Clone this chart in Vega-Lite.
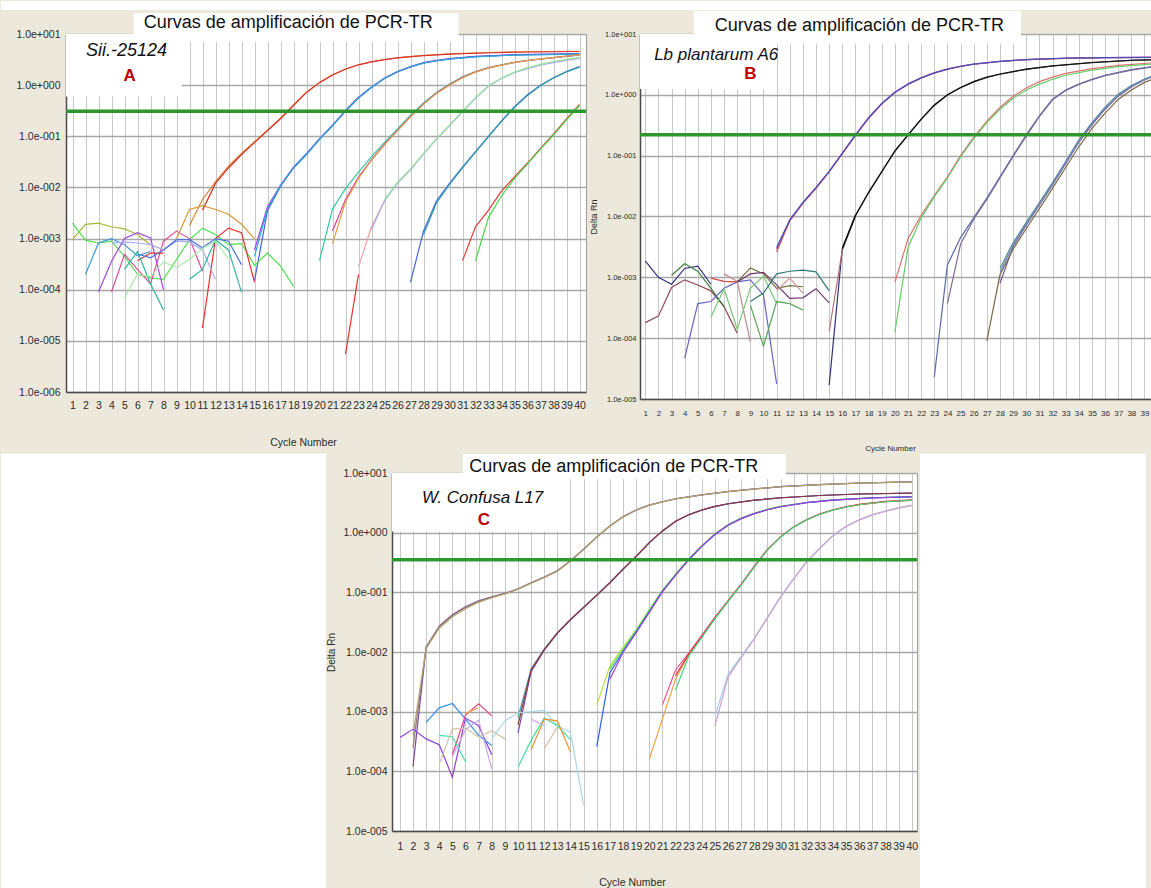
{
"$schema":"https://vega.github.io/schema/vega-lite/v6.json",
"background":"#ECE9DC",
"padding":{"left":0,"top":0,"right":0,"bottom":0},
"config":{
 "view":{"stroke":"#9C9C9C","fill":"white"},
 "axis":{"labelFont":"Liberation Sans, Arial, sans-serif","titleFont":"Liberation Sans, Arial, sans-serif","titleFontWeight":"normal","labelColor":"#2A2A2A","titleColor":"#2A2A2A","ticks":false,"tickSize":0,"domainColor":"#4A4A4A","domainWidth":1.5,"labelFlush":false,"labelOverlap":false,"grid":true,"tickCount":100},
 "axisX":{"gridColor":"#C8C8C8","gridWidth":1,"format":"d"},
 "axisY":{"gridColor":"#A8A8A8","gridWidth":1.5}
},
"resolve":{"scale":{"color":"independent"}},
"spacing":0,
"columns":1,
"align":"none",
"datasets":{
"A":[
{"s":"a1o","c":10,"v":0.0018},{"s":"a1o","c":11,"v":0.0058},{"s":"a1o","c":12,"v":0.013},{"s":"a1o","c":13,"v":0.026},{"s":"a1o","c":14,"v":0.046},{"s":"a1o","c":15,"v":0.078},{"s":"a1o","c":16,"v":0.13},{"s":"a1o","c":17,"v":0.225},{"s":"a1o","c":18,"v":0.41},{"s":"a1o","c":19,"v":0.73},{"s":"a1o","c":20,"v":1.13},{"s":"a1o","c":21,"v":1.6},{"s":"a1o","c":22,"v":2.07},{"s":"a1o","c":23,"v":2.5},{"s":"a1o","c":24,"v":2.87},{"s":"a1o","c":25,"v":3.17},{"s":"a1o","c":26,"v":3.42},{"s":"a1o","c":27,"v":3.62},{"s":"a1o","c":28,"v":3.8},{"s":"a1o","c":30,"v":4.07},{"s":"a1o","c":33,"v":4.32},{"s":"a1o","c":36,"v":4.5},{"s":"a1o","c":40,"v":4.6},
{"s":"a1r","c":11,"v":0.0036},{"s":"a1r","c":12,"v":0.012},{"s":"a1r","c":13,"v":0.024},{"s":"a1r","c":14,"v":0.044},{"s":"a1r","c":15,"v":0.075},{"s":"a1r","c":16,"v":0.13},{"s":"a1r","c":17,"v":0.22},{"s":"a1r","c":18,"v":0.4},{"s":"a1r","c":19,"v":0.72},{"s":"a1r","c":20,"v":1.12},{"s":"a1r","c":21,"v":1.58},{"s":"a1r","c":22,"v":2.05},{"s":"a1r","c":23,"v":2.5},{"s":"a1r","c":24,"v":2.85},{"s":"a1r","c":25,"v":3.15},{"s":"a1r","c":26,"v":3.4},{"s":"a1r","c":27,"v":3.6},{"s":"a1r","c":28,"v":3.78},{"s":"a1r","c":30,"v":4.05},{"s":"a1r","c":33,"v":4.3},{"s":"a1r","c":36,"v":4.45},{"s":"a1r","c":40,"v":4.55},
{"s":"a2p","c":15,"v":0.0006},{"s":"a2p","c":16,"v":0.0042},{"s":"a2p","c":17,"v":0.011},{"s":"a2p","c":18,"v":0.025},{"s":"a2p","c":19,"v":0.046},{"s":"a2p","c":20,"v":0.09},{"s":"a2p","c":21,"v":0.165},{"s":"a2p","c":22,"v":0.32},{"s":"a2p","c":23,"v":0.58},{"s":"a2p","c":24,"v":0.92},{"s":"a2p","c":25,"v":1.38},{"s":"a2p","c":26,"v":1.85},{"s":"a2p","c":27,"v":2.3},{"s":"a2p","c":28,"v":2.75},{"s":"a2p","c":29,"v":3.05},{"s":"a2p","c":30,"v":3.3},{"s":"a2p","c":32,"v":3.65},{"s":"a2p","c":35,"v":3.95},{"s":"a2p","c":40,"v":4.15},
{"s":"a2b","c":15,"v":0.00015},{"s":"a2b","c":16,"v":0.0035},{"s":"a2b","c":17,"v":0.0105},{"s":"a2b","c":18,"v":0.024},{"s":"a2b","c":19,"v":0.044},{"s":"a2b","c":20,"v":0.087},{"s":"a2b","c":21,"v":0.16},{"s":"a2b","c":22,"v":0.31},{"s":"a2b","c":23,"v":0.56},{"s":"a2b","c":24,"v":0.9},{"s":"a2b","c":25,"v":1.35},{"s":"a2b","c":26,"v":1.82},{"s":"a2b","c":27,"v":2.28},{"s":"a2b","c":28,"v":2.72},{"s":"a2b","c":29,"v":3.0},{"s":"a2b","c":30,"v":3.25},{"s":"a2b","c":32,"v":3.6},{"s":"a2b","c":35,"v":3.9},{"s":"a2b","c":40,"v":4.1},
{"s":"a2c","c":15,"v":0.00045},{"s":"a2c","c":16,"v":0.0038},{"s":"a2c","c":17,"v":0.0108},{"s":"a2c","c":18,"v":0.0245},{"s":"a2c","c":19,"v":0.045},{"s":"a2c","c":20,"v":0.088},{"s":"a2c","c":21,"v":0.162},{"s":"a2c","c":22,"v":0.315},{"s":"a2c","c":23,"v":0.57},{"s":"a2c","c":24,"v":0.91},{"s":"a2c","c":25,"v":1.36},{"s":"a2c","c":26,"v":1.83},{"s":"a2c","c":27,"v":2.27},{"s":"a2c","c":28,"v":2.7},{"s":"a2c","c":29,"v":2.98},{"s":"a2c","c":30,"v":3.22},{"s":"a2c","c":32,"v":3.58},{"s":"a2c","c":35,"v":3.88},{"s":"a2c","c":40,"v":4.05},
{"s":"a3t","c":20,"v":0.00037},{"s":"a3t","c":21,"v":0.0038},{"s":"a3t","c":22,"v":0.0095},{"s":"a3t","c":23,"v":0.02},{"s":"a3t","c":24,"v":0.04},{"s":"a3t","c":25,"v":0.076},{"s":"a3t","c":26,"v":0.14},{"s":"a3t","c":27,"v":0.26},{"s":"a3t","c":28,"v":0.45},{"s":"a3t","c":29,"v":0.72},{"s":"a3t","c":30,"v":1.05},{"s":"a3t","c":31,"v":1.45},{"s":"a3t","c":32,"v":1.85},{"s":"a3t","c":33,"v":2.2},{"s":"a3t","c":34,"v":2.5},{"s":"a3t","c":35,"v":2.8},{"s":"a3t","c":36,"v":3.05},{"s":"a3t","c":38,"v":3.45},{"s":"a3t","c":40,"v":3.85},
{"s":"a3m","c":21,"v":0.0014},{"s":"a3m","c":22,"v":0.0058},{"s":"a3m","c":23,"v":0.016},{"s":"a3m","c":24,"v":0.035},{"s":"a3m","c":25,"v":0.07},{"s":"a3m","c":26,"v":0.13},{"s":"a3m","c":27,"v":0.245},{"s":"a3m","c":28,"v":0.43},{"s":"a3m","c":29,"v":0.7},{"s":"a3m","c":30,"v":1.02},{"s":"a3m","c":31,"v":1.42},{"s":"a3m","c":32,"v":1.82},{"s":"a3m","c":33,"v":2.17},{"s":"a3m","c":34,"v":2.48},{"s":"a3m","c":35,"v":2.78},{"s":"a3m","c":36,"v":3.03},{"s":"a3m","c":38,"v":3.45},{"s":"a3m","c":40,"v":3.9},
{"s":"a3o","c":21,"v":0.0008},{"s":"a3o","c":22,"v":0.0052},{"s":"a3o","c":23,"v":0.015},{"s":"a3o","c":24,"v":0.034},{"s":"a3o","c":25,"v":0.068},{"s":"a3o","c":26,"v":0.128},{"s":"a3o","c":27,"v":0.24},{"s":"a3o","c":28,"v":0.42},{"s":"a3o","c":29,"v":0.69},{"s":"a3o","c":30,"v":1.0},{"s":"a3o","c":31,"v":1.4},{"s":"a3o","c":32,"v":1.8},{"s":"a3o","c":33,"v":2.15},{"s":"a3o","c":34,"v":2.46},{"s":"a3o","c":35,"v":2.76},{"s":"a3o","c":36,"v":3.02},{"s":"a3o","c":38,"v":3.45},{"s":"a3o","c":40,"v":3.95},
{"s":"a4r","c":22,"v":0.0000055},{"s":"a4r","c":23,"v":0.0002},
{"s":"a4p","c":23,"v":0.00028},{"s":"a4p","c":24,"v":0.0017},{"s":"a4p","c":25,"v":0.0055},
{"s":"a4l","c":24,"v":0.0015},{"s":"a4l","c":25,"v":0.0055},{"s":"a4l","c":26,"v":0.012},{"s":"a4l","c":27,"v":0.022},{"s":"a4l","c":28,"v":0.045},{"s":"a4l","c":29,"v":0.088},{"s":"a4l","c":30,"v":0.16},{"s":"a4l","c":31,"v":0.3},{"s":"a4l","c":32,"v":0.55},{"s":"a4l","c":33,"v":0.95},{"s":"a4l","c":34,"v":1.35},{"s":"a4l","c":35,"v":1.75},{"s":"a4l","c":36,"v":2.1},{"s":"a4l","c":37,"v":2.45},{"s":"a4l","c":38,"v":2.75},{"s":"a4l","c":39,"v":3.05},{"s":"a4l","c":40,"v":3.35},
{"s":"a4g","c":25,"v":0.0058},{"s":"a4g","c":26,"v":0.0125},{"s":"a4g","c":27,"v":0.023},{"s":"a4g","c":28,"v":0.046},{"s":"a4g","c":29,"v":0.09},{"s":"a4g","c":30,"v":0.165},{"s":"a4g","c":31,"v":0.31},{"s":"a4g","c":32,"v":0.57},{"s":"a4g","c":33,"v":0.97},{"s":"a4g","c":34,"v":1.38},{"s":"a4g","c":35,"v":1.8},{"s":"a4g","c":36,"v":2.2},{"s":"a4g","c":37,"v":2.55},{"s":"a4g","c":38,"v":2.9},{"s":"a4g","c":39,"v":3.2},{"s":"a4g","c":40,"v":3.5},
{"s":"a5b","c":27,"v":0.00014},{"s":"a5b","c":28,"v":0.0014},{"s":"a5b","c":29,"v":0.0055},{"s":"a5b","c":30,"v":0.012},{"s":"a5b","c":31,"v":0.025},{"s":"a5b","c":32,"v":0.05},{"s":"a5b","c":33,"v":0.1},{"s":"a5b","c":34,"v":0.2},{"s":"a5b","c":35,"v":0.38},{"s":"a5b","c":36,"v":0.65},{"s":"a5b","c":37,"v":1.0},{"s":"a5b","c":38,"v":1.4},{"s":"a5b","c":39,"v":1.85},{"s":"a5b","c":40,"v":2.3},
{"s":"a5t","c":28,"v":0.0012},{"s":"a5t","c":29,"v":0.005},{"s":"a5t","c":30,"v":0.0115},{"s":"a5t","c":31,"v":0.024},{"s":"a5t","c":32,"v":0.049},{"s":"a5t","c":33,"v":0.098},{"s":"a5t","c":34,"v":0.195},{"s":"a5t","c":35,"v":0.37},{"s":"a5t","c":36,"v":0.63},{"s":"a5t","c":37,"v":0.98},{"s":"a5t","c":38,"v":1.38},{"s":"a5t","c":39,"v":1.82},{"s":"a5t","c":40,"v":2.25},
{"s":"a6r","c":31,"v":0.00037},{"s":"a6r","c":32,"v":0.0017},{"s":"a6r","c":33,"v":0.0036},{"s":"a6r","c":34,"v":0.0085},{"s":"a6r","c":35,"v":0.016},{"s":"a6r","c":36,"v":0.03},{"s":"a6r","c":37,"v":0.058},{"s":"a6r","c":38,"v":0.11},{"s":"a6r","c":39,"v":0.22},{"s":"a6r","c":40,"v":0.42},
{"s":"a6g","c":32,"v":0.00037},{"s":"a6g","c":33,"v":0.0026},{"s":"a6g","c":34,"v":0.0068},{"s":"a6g","c":35,"v":0.015},{"s":"a6g","c":36,"v":0.029},{"s":"a6g","c":37,"v":0.056},{"s":"a6g","c":38,"v":0.105},{"s":"a6g","c":39,"v":0.21},{"s":"a6g","c":40,"v":0.4},
{"s":"n1","c":1,"v":0.00095},{"s":"n1","c":2,"v":0.0019},{"s":"n1","c":3,"v":0.002},{"s":"n1","c":4,"v":0.0017},{"s":"n1","c":5,"v":0.00155},{"s":"n1","c":6,"v":0.0012},{"s":"n1","c":7,"v":0.00075},
{"s":"n2","c":1,"v":0.002},{"s":"n2","c":2,"v":0.00093},{"s":"n2","c":3,"v":0.00082},{"s":"n2","c":4,"v":0.00089},{"s":"n2","c":5,"v":0.00045},{"s":"n2","c":6,"v":0.0002},{"s":"n2","c":7,"v":0.00017},{"s":"n2","c":8,"v":0.00016},{"s":"n2","c":9,"v":0.00039},{"s":"n2","c":10,"v":0.00095},{"s":"n2","c":11,"v":0.0016},{"s":"n2","c":12,"v":0.0012},{"s":"n2","c":13,"v":0.00076},{"s":"n2","c":14,"v":0.0008},{"s":"n2","c":15,"v":0.0003},{"s":"n2","c":16,"v":0.00052},{"s":"n2","c":17,"v":0.00029},{"s":"n2","c":18,"v":0.000116},
{"s":"n3","c":2,"v":0.0002},{"s":"n3","c":3,"v":0.00082},{"s":"n3","c":4,"v":0.001},{"s":"n3","c":5,"v":0.00076},{"s":"n3","c":6,"v":0.00046},{"s":"n3","c":7,"v":0.00056},
{"s":"n4","c":3,"v":0.00009},{"s":"n4","c":4,"v":0.00036},{"s":"n4","c":5,"v":0.001},{"s":"n4","c":6,"v":0.0013},{"s":"n4","c":7,"v":0.00103},{"s":"n4","c":8,"v":0.0001},
{"s":"n5","c":4,"v":0.00009},{"s":"n5","c":5,"v":0.00049},{"s":"n5","c":6,"v":0.00025},{"s":"n5","c":7,"v":0.00013},{"s":"n5","c":8,"v":0.00089},{"s":"n5","c":9,"v":0.0014},{"s":"n5","c":10,"v":0.001},{"s":"n5","c":11,"v":0.00023},
{"s":"n6","c":6,"v":0.00037},{"s":"n6","c":7,"v":0.00052},{"s":"n6","c":8,"v":0.00052},
{"s":"n7","c":11,"v":0.000018},{"s":"n7","c":12,"v":0.001},{"s":"n7","c":13,"v":0.0016},{"s":"n7","c":14,"v":0.0013},{"s":"n7","c":15,"v":0.00014},
{"s":"n8","c":4,"v":0.00082},{"s":"n8","c":5,"v":0.00085},{"s":"n8","c":6,"v":0.00082},{"s":"n8","c":7,"v":0.00076},{"s":"n8","c":8,"v":0.0006},{"s":"n8","c":9,"v":0.00089},{"s":"n8","c":10,"v":0.00085},{"s":"n8","c":11,"v":0.0006},{"s":"n8","c":12,"v":0.00016},
{"s":"n9","c":6,"v":0.0005},{"s":"n9","c":7,"v":0.00042},{"s":"n9","c":8,"v":0.0006},{"s":"n9","c":9,"v":0.00095},{"s":"n9","c":10,"v":0.00095},{"s":"n9","c":11,"v":0.00066},{"s":"n9","c":12,"v":0.001},{"s":"n9","c":13,"v":0.00089},{"s":"n9","c":14,"v":0.00031},
{"s":"n10","c":5,"v":0.00025},{"s":"n10","c":6,"v":0.00056},{"s":"n10","c":7,"v":0.00013},{"s":"n10","c":8,"v":0.00004},
{"s":"n11","c":10,"v":0.00016},{"s":"n11","c":11,"v":0.00025},{"s":"n11","c":12,"v":0.00095},{"s":"n11","c":13,"v":0.0006},{"s":"n11","c":14,"v":0.00009},
{"s":"n12","c":5,"v":0.00007},{"s":"n12","c":6,"v":0.0002},{"s":"n12","c":7,"v":0.00018},{"s":"n12","c":8,"v":0.00035},{"s":"n12","c":9,"v":0.00027},{"s":"n12","c":10,"v":0.00039},{"s":"n12","c":11,"v":0.00065},{"s":"n12","c":12,"v":0.0009},{"s":"n12","c":13,"v":0.0004},
{"s":"n13","c":9,"v":0.001},{"s":"n13","c":10,"v":0.0037},{"s":"n13","c":11,"v":0.0044},{"s":"n13","c":12,"v":0.0037},{"s":"n13","c":13,"v":0.003},{"s":"n13","c":14,"v":0.0019},{"s":"n13","c":15,"v":0.001}
],
"B":[
{"s":"b1p","c":11,"v":0.0029},{"s":"b1p","c":12,"v":0.0087},{"s":"b1p","c":13,"v":0.0168},{"s":"b1p","c":14,"v":0.0295},{"s":"b1p","c":15,"v":0.0545},{"s":"b1p","c":16,"v":0.109},{"s":"b1p","c":17,"v":0.218},{"s":"b1p","c":18,"v":0.415},{"s":"b1p","c":19,"v":0.715},{"s":"b1p","c":20,"v":1.095},{"s":"b1p","c":21,"v":1.5},{"s":"b1p","c":22,"v":1.9},{"s":"b1p","c":23,"v":2.29},{"s":"b1p","c":24,"v":2.64},{"s":"b1p","c":25,"v":2.94},{"s":"b1p","c":26,"v":3.19},{"s":"b1p","c":28,"v":3.54},{"s":"b1p","c":30,"v":3.79},{"s":"b1p","c":33,"v":3.99},{"s":"b1p","c":36,"v":4.09},{"s":"b1p","c":40,"v":4.14},
{"s":"b1r","c":11,"v":0.0026},{"s":"b1r","c":12,"v":0.0085},{"s":"b1r","c":13,"v":0.0165},{"s":"b1r","c":14,"v":0.029},{"s":"b1r","c":15,"v":0.054},{"s":"b1r","c":16,"v":0.108},{"s":"b1r","c":17,"v":0.215},{"s":"b1r","c":18,"v":0.41},{"s":"b1r","c":19,"v":0.71},{"s":"b1r","c":20,"v":1.09},{"s":"b1r","c":21,"v":1.49},{"s":"b1r","c":22,"v":1.89},{"s":"b1r","c":23,"v":2.28},{"s":"b1r","c":24,"v":2.63},{"s":"b1r","c":25,"v":2.93},{"s":"b1r","c":26,"v":3.18},{"s":"b1r","c":28,"v":3.53},{"s":"b1r","c":30,"v":3.78},{"s":"b1r","c":33,"v":3.98},{"s":"b1r","c":36,"v":4.08},{"s":"b1r","c":40,"v":4.12},
{"s":"b1b","c":11,"v":0.0031},{"s":"b1b","c":12,"v":0.0088},{"s":"b1b","c":13,"v":0.017},{"s":"b1b","c":14,"v":0.03},{"s":"b1b","c":15,"v":0.055},{"s":"b1b","c":16,"v":0.11},{"s":"b1b","c":17,"v":0.22},{"s":"b1b","c":18,"v":0.42},{"s":"b1b","c":19,"v":0.72},{"s":"b1b","c":20,"v":1.1},{"s":"b1b","c":21,"v":1.5},{"s":"b1b","c":22,"v":1.9},{"s":"b1b","c":23,"v":2.3},{"s":"b1b","c":24,"v":2.65},{"s":"b1b","c":25,"v":2.95},{"s":"b1b","c":26,"v":3.2},{"s":"b1b","c":28,"v":3.55},{"s":"b1b","c":30,"v":3.8},{"s":"b1b","c":33,"v":4.0},{"s":"b1b","c":36,"v":4.1},{"s":"b1b","c":40,"v":4.15},
{"s":"b2u","c":15,"v":0.000017},{"s":"b2u","c":16,"v":0.003},{"s":"b2u","c":17,"v":0.0105},
{"s":"b2n","c":15,"v":0.00013},{"s":"b2n","c":16,"v":0.0028},{"s":"b2n","c":17,"v":0.0102},
{"s":"b2d","c":16,"v":0.0029},{"s":"b2d","c":17,"v":0.0102},{"s":"b2d","c":18,"v":0.0245},{"s":"b2d","c":19,"v":0.054},{"s":"b2d","c":20,"v":0.118},{"s":"b2d","c":21,"v":0.218},{"s":"b2d","c":22,"v":0.395},{"s":"b2d","c":23,"v":0.67},{"s":"b2d","c":24,"v":0.99},{"s":"b2d","c":25,"v":1.31},{"s":"b2d","c":26,"v":1.63},{"s":"b2d","c":27,"v":1.93},{"s":"b2d","c":28,"v":2.18},{"s":"b2d","c":30,"v":2.63},{"s":"b2d","c":32,"v":2.98},{"s":"b2d","c":35,"v":3.38},{"s":"b2d","c":38,"v":3.68},{"s":"b2d","c":40,"v":3.78},
{"s":"b2k","c":16,"v":0.003},{"s":"b2k","c":17,"v":0.0105},{"s":"b2k","c":18,"v":0.025},{"s":"b2k","c":19,"v":0.055},{"s":"b2k","c":20,"v":0.12},{"s":"b2k","c":21,"v":0.22},{"s":"b2k","c":22,"v":0.4},{"s":"b2k","c":23,"v":0.68},{"s":"b2k","c":24,"v":1.0},{"s":"b2k","c":25,"v":1.32},{"s":"b2k","c":26,"v":1.65},{"s":"b2k","c":27,"v":1.95},{"s":"b2k","c":28,"v":2.2},{"s":"b2k","c":30,"v":2.65},{"s":"b2k","c":32,"v":3.0},{"s":"b2k","c":35,"v":3.4},{"s":"b2k","c":38,"v":3.7},{"s":"b2k","c":40,"v":3.8},
{"s":"b3r","c":20,"v":0.00083},{"s":"b3r","c":21,"v":0.0043},{"s":"b3r","c":22,"v":0.0105},{"s":"b3r","c":23,"v":0.022},{"s":"b3r","c":24,"v":0.045},{"s":"b3r","c":25,"v":0.1},{"s":"b3r","c":26,"v":0.2},{"s":"b3r","c":27,"v":0.37},{"s":"b3r","c":28,"v":0.62},{"s":"b3r","c":29,"v":0.95},{"s":"b3r","c":30,"v":1.3},{"s":"b3r","c":31,"v":1.65},{"s":"b3r","c":32,"v":1.95},{"s":"b3r","c":33,"v":2.25},{"s":"b3r","c":35,"v":2.7},{"s":"b3r","c":37,"v":3.05},{"s":"b3r","c":40,"v":3.4},
{"s":"b3g","c":20,"v":0.000125},{"s":"b3g","c":21,"v":0.0031},{"s":"b3g","c":22,"v":0.0095},{"s":"b3g","c":23,"v":0.021},{"s":"b3g","c":24,"v":0.043},{"s":"b3g","c":25,"v":0.095},{"s":"b3g","c":26,"v":0.19},{"s":"b3g","c":27,"v":0.35},{"s":"b3g","c":28,"v":0.58},{"s":"b3g","c":29,"v":0.88},{"s":"b3g","c":30,"v":1.2},{"s":"b3g","c":31,"v":1.5},{"s":"b3g","c":32,"v":1.8},{"s":"b3g","c":33,"v":2.1},{"s":"b3g","c":35,"v":2.55},{"s":"b3g","c":37,"v":2.9},{"s":"b3g","c":40,"v":3.25},
{"s":"b4s","c":23,"v":0.000023},{"s":"b4s","c":24,"v":0.0016},{"s":"b4s","c":25,"v":0.0045},{"s":"b4s","c":26,"v":0.0095},{"s":"b4s","c":27,"v":0.02},{"s":"b4s","c":28,"v":0.045},{"s":"b4s","c":29,"v":0.1},{"s":"b4s","c":30,"v":0.22},{"s":"b4s","c":31,"v":0.45},{"s":"b4s","c":32,"v":0.85},{"s":"b4s","c":33,"v":1.2},{"s":"b4s","c":34,"v":1.5},{"s":"b4s","c":35,"v":1.8},{"s":"b4s","c":36,"v":2.1},{"s":"b4s","c":38,"v":2.6},{"s":"b4s","c":40,"v":3.0},
{"s":"b4p","c":24,"v":0.00037},{"s":"b4p","c":25,"v":0.0035},{"s":"b4p","c":26,"v":0.009},{"s":"b4p","c":27,"v":0.019},{"s":"b4p","c":28,"v":0.043},{"s":"b4p","c":29,"v":0.097},{"s":"b4p","c":30,"v":0.21},{"s":"b4p","c":31,"v":0.44},{"s":"b4p","c":32,"v":0.83},{"s":"b4p","c":33,"v":1.18},{"s":"b4p","c":34,"v":1.48},{"s":"b4p","c":35,"v":1.78},{"s":"b4p","c":36,"v":2.07},{"s":"b4p","c":38,"v":2.55},{"s":"b4p","c":40,"v":2.95},
{"s":"b5t","c":28,"v":0.0014},{"s":"b5t","c":29,"v":0.0037},{"s":"b5t","c":30,"v":0.008},{"s":"b5t","c":31,"v":0.017},{"s":"b5t","c":32,"v":0.036},{"s":"b5t","c":33,"v":0.08},{"s":"b5t","c":34,"v":0.18},{"s":"b5t","c":35,"v":0.35},{"s":"b5t","c":36,"v":0.63},{"s":"b5t","c":37,"v":1.02},{"s":"b5t","c":38,"v":1.42},{"s":"b5t","c":39,"v":1.82},{"s":"b5t","c":40,"v":2.2},
{"s":"b5p","c":28,"v":0.0008},{"s":"b5p","c":29,"v":0.0032},{"s":"b5p","c":30,"v":0.0072},{"s":"b5p","c":31,"v":0.0155},{"s":"b5p","c":32,"v":0.033},{"s":"b5p","c":33,"v":0.074},{"s":"b5p","c":34,"v":0.165},{"s":"b5p","c":35,"v":0.32},{"s":"b5p","c":36,"v":0.58},{"s":"b5p","c":37,"v":0.95},{"s":"b5p","c":38,"v":1.35},{"s":"b5p","c":39,"v":1.75},{"s":"b5p","c":40,"v":2.15},
{"s":"b5n","c":27,"v":0.00009},{"s":"b5n","c":28,"v":0.0011},{"s":"b5n","c":29,"v":0.0029},{"s":"b5n","c":30,"v":0.0063},{"s":"b5n","c":31,"v":0.0135},{"s":"b5n","c":32,"v":0.029},{"s":"b5n","c":33,"v":0.064},{"s":"b5n","c":34,"v":0.14},{"s":"b5n","c":35,"v":0.28},{"s":"b5n","c":36,"v":0.5},{"s":"b5n","c":37,"v":0.84},{"s":"b5n","c":38,"v":1.2},{"s":"b5n","c":39,"v":1.6},{"s":"b5n","c":40,"v":1.95},
{"s":"b5b","c":28,"v":0.0012},{"s":"b5b","c":29,"v":0.0034},{"s":"b5b","c":30,"v":0.0075},{"s":"b5b","c":31,"v":0.016},{"s":"b5b","c":32,"v":0.034},{"s":"b5b","c":33,"v":0.077},{"s":"b5b","c":34,"v":0.17},{"s":"b5b","c":35,"v":0.34},{"s":"b5b","c":36,"v":0.6},{"s":"b5b","c":37,"v":0.98},{"s":"b5b","c":38,"v":1.38},{"s":"b5b","c":39,"v":1.78},{"s":"b5b","c":40,"v":2.18},
{"s":"m1","c":1,"v":0.00186},{"s":"m1","c":2,"v":0.001},{"s":"m1","c":3,"v":0.00077},{"s":"m1","c":4,"v":0.0014},{"s":"m1","c":5,"v":0.00153},{"s":"m1","c":6,"v":0.00077},
{"s":"m2","c":1,"v":0.00018},{"s":"m2","c":2,"v":0.00023},{"s":"m2","c":3,"v":0.00068},{"s":"m2","c":4,"v":0.00091},{"s":"m2","c":5,"v":0.00075},{"s":"m2","c":6,"v":0.0006},{"s":"m2","c":7,"v":0.00033},{"s":"m2","c":8,"v":0.00012},
{"s":"m3","c":3,"v":0.00108},{"s":"m3","c":4,"v":0.00167},{"s":"m3","c":5,"v":0.00126},{"s":"m3","c":6,"v":0.00066},{"s":"m3","c":7,"v":0.00033},
{"s":"m4","c":4,"v":0.000047},{"s":"m4","c":5,"v":0.00037},{"s":"m4","c":6,"v":0.0004},{"s":"m4","c":7,"v":0.00066},{"s":"m4","c":8,"v":0.00084},{"s":"m4","c":9,"v":0.00091},{"s":"m4","c":10,"v":0.00051},{"s":"m4","c":11,"v":0.0000177},
{"s":"m5","c":6,"v":0.00097},{"s":"m5","c":7,"v":0.00086},{"s":"m5","c":8,"v":0.00084},
{"s":"m6","c":7,"v":0.00114},{"s":"m6","c":8,"v":0.00086},{"s":"m6","c":9,"v":0.000087},
{"s":"m7","c":6,"v":0.00022},{"s":"m7","c":7,"v":0.00065},{"s":"m7","c":8,"v":0.00014},{"s":"m7","c":9,"v":0.00066},{"s":"m7","c":10,"v":0.00104},{"s":"m7","c":11,"v":0.00037},
{"s":"m8","c":9,"v":0.00035},{"s":"m8","c":10,"v":0.000074},{"s":"m8","c":11,"v":0.0004},{"s":"m8","c":12,"v":0.00037},{"s":"m8","c":13,"v":0.00029},
{"s":"m9","c":8,"v":0.00084},{"s":"m9","c":9,"v":0.00143},{"s":"m9","c":10,"v":0.00114},{"s":"m9","c":11,"v":0.00066},{"s":"m9","c":12,"v":0.00073},{"s":"m9","c":13,"v":0.0007},
{"s":"m10","c":8,"v":0.00084},{"s":"m10","c":9,"v":0.00114},{"s":"m10","c":10,"v":0.00121},{"s":"m10","c":11,"v":0.00075},{"s":"m10","c":12,"v":0.00045},{"s":"m10","c":13,"v":0.00046},{"s":"m10","c":14,"v":0.00065},{"s":"m10","c":15,"v":0.00038},
{"s":"m11","c":9,"v":0.0004},{"s":"m11","c":10,"v":0.00055},{"s":"m11","c":11,"v":0.00114},{"s":"m11","c":12,"v":0.00126},{"s":"m11","c":13,"v":0.00131},{"s":"m11","c":14,"v":0.00123},{"s":"m11","c":15,"v":0.0006},
{"s":"m12","c":11,"v":0.0006},{"s":"m12","c":12,"v":0.00097},{"s":"m12","c":13,"v":0.00055}
],
"C":[
{"s":"c1p","c":2,"v":0.00012},{"s":"c1p","c":3,"v":0.012},{"s":"c1p","c":4,"v":0.027},{"s":"c1p","c":5,"v":0.042},{"s":"c1p","c":6,"v":0.057},{"s":"c1p","c":7,"v":0.072},{"s":"c1p","c":8,"v":0.084},{"s":"c1p","c":9,"v":0.096},{"s":"c1p","c":10,"v":0.115},{"s":"c1p","c":11,"v":0.145},{"s":"c1p","c":12,"v":0.18},{"s":"c1p","c":13,"v":0.23},{"s":"c1p","c":14,"v":0.34},{"s":"c1p","c":15,"v":0.53},{"s":"c1p","c":16,"v":0.85},{"s":"c1p","c":17,"v":1.3},{"s":"c1p","c":18,"v":1.85},{"s":"c1p","c":19,"v":2.4},{"s":"c1p","c":20,"v":2.9},{"s":"c1p","c":21,"v":3.3},{"s":"c1p","c":22,"v":3.7},{"s":"c1p","c":24,"v":4.3},{"s":"c1p","c":26,"v":4.9},{"s":"c1p","c":28,"v":5.4},{"s":"c1p","c":30,"v":5.9},{"s":"c1p","c":33,"v":6.4},{"s":"c1p","c":36,"v":6.8},{"s":"c1p","c":40,"v":7.1},
{"s":"c1g","c":2,"v":0.00025},{"s":"c1g","c":3,"v":0.0122},{"s":"c1g","c":4,"v":0.0265},{"s":"c1g","c":5,"v":0.041},{"s":"c1g","c":6,"v":0.056},{"s":"c1g","c":7,"v":0.071},{"s":"c1g","c":8,"v":0.083},{"s":"c1g","c":9,"v":0.095},{"s":"c1g","c":10,"v":0.114},{"s":"c1g","c":11,"v":0.144},{"s":"c1g","c":12,"v":0.179},{"s":"c1g","c":13,"v":0.229},{"s":"c1g","c":14,"v":0.338},{"s":"c1g","c":15,"v":0.525},{"s":"c1g","c":16,"v":0.845},{"s":"c1g","c":17,"v":1.29},{"s":"c1g","c":18,"v":1.84},{"s":"c1g","c":19,"v":2.39},{"s":"c1g","c":20,"v":2.89},{"s":"c1g","c":21,"v":3.29},{"s":"c1g","c":22,"v":3.69},{"s":"c1g","c":24,"v":4.29},{"s":"c1g","c":26,"v":4.89},{"s":"c1g","c":28,"v":5.39},{"s":"c1g","c":30,"v":5.89},{"s":"c1g","c":33,"v":6.39},{"s":"c1g","c":36,"v":6.79},{"s":"c1g","c":40,"v":7.09},
{"s":"c1k","c":2,"v":0.0004},{"s":"c1k","c":3,"v":0.0115},{"s":"c1k","c":4,"v":0.025},{"s":"c1k","c":5,"v":0.039},{"s":"c1k","c":6,"v":0.053},{"s":"c1k","c":7,"v":0.068},{"s":"c1k","c":8,"v":0.081},{"s":"c1k","c":9,"v":0.094},{"s":"c1k","c":10,"v":0.113},{"s":"c1k","c":11,"v":0.142},{"s":"c1k","c":12,"v":0.177},{"s":"c1k","c":13,"v":0.226},{"s":"c1k","c":14,"v":0.335},{"s":"c1k","c":15,"v":0.52},{"s":"c1k","c":16,"v":0.84},{"s":"c1k","c":17,"v":1.28},{"s":"c1k","c":18,"v":1.83},{"s":"c1k","c":19,"v":2.38},{"s":"c1k","c":20,"v":2.88},{"s":"c1k","c":21,"v":3.28},{"s":"c1k","c":22,"v":3.68},{"s":"c1k","c":24,"v":4.28},{"s":"c1k","c":26,"v":4.88},{"s":"c1k","c":28,"v":5.38},{"s":"c1k","c":30,"v":5.88},{"s":"c1k","c":33,"v":6.38},{"s":"c1k","c":36,"v":6.78},{"s":"c1k","c":40,"v":7.08},
{"s":"c2t","c":10,"v":0.0008},{"s":"c2t","c":11,"v":0.0052},{"s":"c2t","c":12,"v":0.0112},{"s":"c2t","c":13,"v":0.0212},{"s":"c2t","c":14,"v":0.0352},{"s":"c2t","c":15,"v":0.0562},{"s":"c2t","c":16,"v":0.0905},{"s":"c2t","c":17,"v":0.146},{"s":"c2t","c":18,"v":0.246},{"s":"c2t","c":19,"v":0.401},{"s":"c2t","c":20,"v":0.68},{"s":"c2t","c":21,"v":1.07},{"s":"c2t","c":22,"v":1.55},{"s":"c2t","c":23,"v":2.0},{"s":"c2t","c":24,"v":2.4},{"s":"c2t","c":25,"v":2.75},{"s":"c2t","c":26,"v":3.05},{"s":"c2t","c":28,"v":3.5},{"s":"c2t","c":30,"v":3.85},{"s":"c2t","c":33,"v":4.2},{"s":"c2t","c":36,"v":4.45},{"s":"c2t","c":40,"v":4.58},
{"s":"c2p","c":10,"v":0.00044},{"s":"c2p","c":11,"v":0.0047},{"s":"c2p","c":12,"v":0.0107},{"s":"c2p","c":13,"v":0.0205},{"s":"c2p","c":14,"v":0.0345},{"s":"c2p","c":15,"v":0.0555},{"s":"c2p","c":16,"v":0.089},{"s":"c2p","c":17,"v":0.144},{"s":"c2p","c":18,"v":0.243},{"s":"c2p","c":19,"v":0.398},{"s":"c2p","c":20,"v":0.675},{"s":"c2p","c":21,"v":1.06},{"s":"c2p","c":22,"v":1.54},{"s":"c2p","c":23,"v":1.99},{"s":"c2p","c":24,"v":2.39},{"s":"c2p","c":25,"v":2.74},{"s":"c2p","c":26,"v":3.04},{"s":"c2p","c":28,"v":3.49},{"s":"c2p","c":30,"v":3.84},{"s":"c2p","c":33,"v":4.2},{"s":"c2p","c":36,"v":4.45},{"s":"c2p","c":40,"v":4.62},
{"s":"c2m","c":10,"v":0.0006},{"s":"c2m","c":11,"v":0.005},{"s":"c2m","c":12,"v":0.011},{"s":"c2m","c":13,"v":0.021},{"s":"c2m","c":14,"v":0.035},{"s":"c2m","c":15,"v":0.056},{"s":"c2m","c":16,"v":0.09},{"s":"c2m","c":17,"v":0.145},{"s":"c2m","c":18,"v":0.245},{"s":"c2m","c":19,"v":0.4},{"s":"c2m","c":20,"v":0.68},{"s":"c2m","c":21,"v":1.07},{"s":"c2m","c":22,"v":1.55},{"s":"c2m","c":23,"v":2.0},{"s":"c2m","c":24,"v":2.4},{"s":"c2m","c":25,"v":2.75},{"s":"c2m","c":26,"v":3.05},{"s":"c2m","c":28,"v":3.5},{"s":"c2m","c":30,"v":3.85},{"s":"c2m","c":33,"v":4.2},{"s":"c2m","c":36,"v":4.45},{"s":"c2m","c":40,"v":4.6},
{"s":"c3y","c":16,"v":0.0013},{"s":"c3y","c":17,"v":0.0058},{"s":"c3y","c":18,"v":0.012},{"s":"c3y","c":19,"v":0.0235},{"s":"c3y","c":20,"v":0.051},{"s":"c3y","c":21,"v":0.108},{"s":"c3y","c":22,"v":0.2},{"s":"c3y","c":23,"v":0.36},{"s":"c3y","c":24,"v":0.6},{"s":"c3y","c":25,"v":0.95},{"s":"c3y","c":26,"v":1.35},{"s":"c3y","c":27,"v":1.75},{"s":"c3y","c":28,"v":2.1},{"s":"c3y","c":29,"v":2.45},{"s":"c3y","c":30,"v":2.75},{"s":"c3y","c":32,"v":3.2},{"s":"c3y","c":34,"v":3.55},{"s":"c3y","c":37,"v":3.85},{"s":"c3y","c":40,"v":4.0},
{"s":"c3g","c":17,"v":0.0052},{"s":"c3g","c":18,"v":0.011},{"s":"c3g","c":19,"v":0.023},{"s":"c3g","c":20,"v":0.05},{"s":"c3g","c":21,"v":0.107},{"s":"c3g","c":22,"v":0.2},{"s":"c3g","c":23,"v":0.36},{"s":"c3g","c":24,"v":0.6},{"s":"c3g","c":25,"v":0.95},{"s":"c3g","c":26,"v":1.35},{"s":"c3g","c":27,"v":1.75},{"s":"c3g","c":28,"v":2.1},{"s":"c3g","c":29,"v":2.45},{"s":"c3g","c":30,"v":2.75},{"s":"c3g","c":32,"v":3.2},{"s":"c3g","c":34,"v":3.55},{"s":"c3g","c":37,"v":3.85},{"s":"c3g","c":40,"v":4.02},
{"s":"c3b","c":16,"v":0.00026},{"s":"c3b","c":17,"v":0.0045},{"s":"c3b","c":18,"v":0.0102},{"s":"c3b","c":19,"v":0.0215},{"s":"c3b","c":20,"v":0.047},{"s":"c3b","c":21,"v":0.104},{"s":"c3b","c":22,"v":0.195},{"s":"c3b","c":23,"v":0.35},{"s":"c3b","c":24,"v":0.59},{"s":"c3b","c":25,"v":0.93},{"s":"c3b","c":26,"v":1.33},{"s":"c3b","c":27,"v":1.72},{"s":"c3b","c":28,"v":2.08},{"s":"c3b","c":29,"v":2.42},{"s":"c3b","c":30,"v":2.72},{"s":"c3b","c":32,"v":3.18},{"s":"c3b","c":34,"v":3.52},{"s":"c3b","c":37,"v":3.82},{"s":"c3b","c":40,"v":3.98},
{"s":"c3p","c":17,"v":0.0035},{"s":"c3p","c":18,"v":0.0098},{"s":"c3p","c":19,"v":0.021},{"s":"c3p","c":20,"v":0.046},{"s":"c3p","c":21,"v":0.102},{"s":"c3p","c":22,"v":0.193},{"s":"c3p","c":23,"v":0.35},{"s":"c3p","c":24,"v":0.59},{"s":"c3p","c":25,"v":0.93},{"s":"c3p","c":26,"v":1.33},{"s":"c3p","c":27,"v":1.72},{"s":"c3p","c":28,"v":2.08},{"s":"c3p","c":29,"v":2.42},{"s":"c3p","c":30,"v":2.72},{"s":"c3p","c":32,"v":3.18},{"s":"c3p","c":34,"v":3.52},{"s":"c3p","c":37,"v":3.82},{"s":"c3p","c":40,"v":4.0},
{"s":"c4o","c":20,"v":0.00016},{"s":"c4o","c":21,"v":0.00075},{"s":"c4o","c":22,"v":0.0035},{"s":"c4o","c":23,"v":0.009},{"s":"c4o","c":24,"v":0.018},{"s":"c4o","c":25,"v":0.037},{"s":"c4o","c":26,"v":0.071},{"s":"c4o","c":27,"v":0.135},{"s":"c4o","c":28,"v":0.27},{"s":"c4o","c":29,"v":0.52},{"s":"c4o","c":30,"v":0.85},{"s":"c4o","c":31,"v":1.25},{"s":"c4o","c":32,"v":1.65},{"s":"c4o","c":33,"v":2.05},{"s":"c4o","c":34,"v":2.4},{"s":"c4o","c":35,"v":2.7},{"s":"c4o","c":36,"v":2.95},{"s":"c4o","c":38,"v":3.3},{"s":"c4o","c":40,"v":3.5},
{"s":"c4p","c":21,"v":0.0013},{"s":"c4p","c":22,"v":0.005},{"s":"c4p","c":23,"v":0.0095},{"s":"c4p","c":24,"v":0.019},{"s":"c4p","c":25,"v":0.038},{"s":"c4p","c":26,"v":0.072},{"s":"c4p","c":27,"v":0.137},{"s":"c4p","c":28,"v":0.272},{"s":"c4p","c":29,"v":0.52},{"s":"c4p","c":30,"v":0.85},{"s":"c4p","c":31,"v":1.25},{"s":"c4p","c":32,"v":1.65},{"s":"c4p","c":33,"v":2.05},{"s":"c4p","c":34,"v":2.4},{"s":"c4p","c":35,"v":2.7},{"s":"c4p","c":36,"v":2.95},{"s":"c4p","c":38,"v":3.3},{"s":"c4p","c":40,"v":3.48},
{"s":"c4r","c":22,"v":0.004},{"s":"c4r","c":23,"v":0.0092},{"s":"c4r","c":24,"v":0.0182},{"s":"c4r","c":25,"v":0.0372},{"s":"c4r","c":26,"v":0.0712},{"s":"c4r","c":27,"v":0.136},{"s":"c4r","c":28,"v":0.27},{"s":"c4r","c":29,"v":0.52},{"s":"c4r","c":30,"v":0.85},{"s":"c4r","c":31,"v":1.25},{"s":"c4r","c":32,"v":1.66},{"s":"c4r","c":33,"v":2.06},{"s":"c4r","c":34,"v":2.42},{"s":"c4r","c":35,"v":2.72},{"s":"c4r","c":36,"v":2.98},{"s":"c4r","c":38,"v":3.35},{"s":"c4r","c":40,"v":3.55},
{"s":"c4g","c":22,"v":0.0023},{"s":"c4g","c":23,"v":0.0085},{"s":"c4g","c":24,"v":0.0175},{"s":"c4g","c":25,"v":0.036},{"s":"c4g","c":26,"v":0.07},{"s":"c4g","c":27,"v":0.133},{"s":"c4g","c":28,"v":0.265},{"s":"c4g","c":29,"v":0.51},{"s":"c4g","c":30,"v":0.84},{"s":"c4g","c":31,"v":1.24},{"s":"c4g","c":32,"v":1.64},{"s":"c4g","c":33,"v":2.04},{"s":"c4g","c":34,"v":2.39},{"s":"c4g","c":35,"v":2.69},{"s":"c4g","c":36,"v":2.94},{"s":"c4g","c":38,"v":3.3},{"s":"c4g","c":40,"v":3.5},
{"s":"c5k","c":26,"v":0.004},{"s":"c5k","c":27,"v":0.0082},{"s":"c5k","c":28,"v":0.0168},{"s":"c5k","c":29,"v":0.0375},{"s":"c5k","c":30,"v":0.084},{"s":"c5k","c":31,"v":0.169},{"s":"c5k","c":32,"v":0.328},{"s":"c5k","c":33,"v":0.548},{"s":"c5k","c":34,"v":0.895},{"s":"c5k","c":35,"v":1.275},{"s":"c5k","c":36,"v":1.645},{"s":"c5k","c":37,"v":1.995},{"s":"c5k","c":38,"v":2.3},{"s":"c5k","c":39,"v":2.58},{"s":"c5k","c":40,"v":2.82},
{"s":"c5b","c":25,"v":0.00084},{"s":"c5b","c":26,"v":0.0042},{"s":"c5b","c":27,"v":0.0085},{"s":"c5b","c":28,"v":0.017},{"s":"c5b","c":29,"v":0.038},{"s":"c5b","c":30,"v":0.085},{"s":"c5b","c":31,"v":0.17},{"s":"c5b","c":32,"v":0.33},{"s":"c5b","c":33,"v":0.55},{"s":"c5b","c":34,"v":0.9},{"s":"c5b","c":35,"v":1.28},{"s":"c5b","c":36,"v":1.65},{"s":"c5b","c":37,"v":2.0},{"s":"c5b","c":38,"v":2.3},{"s":"c5b","c":39,"v":2.6},{"s":"c5b","c":40,"v":2.85},
{"s":"c5l","c":25,"v":0.00057},{"s":"c5l","c":26,"v":0.0038},{"s":"c5l","c":27,"v":0.008},{"s":"c5l","c":28,"v":0.0165},{"s":"c5l","c":29,"v":0.037},{"s":"c5l","c":30,"v":0.083},{"s":"c5l","c":31,"v":0.168},{"s":"c5l","c":32,"v":0.325},{"s":"c5l","c":33,"v":0.545},{"s":"c5l","c":34,"v":0.89},{"s":"c5l","c":35,"v":1.27},{"s":"c5l","c":36,"v":1.64},{"s":"c5l","c":37,"v":1.99},{"s":"c5l","c":38,"v":2.3},{"s":"c5l","c":39,"v":2.6},{"s":"c5l","c":40,"v":2.9},
{"s":"q1","c":1,"v":0.00037},{"s":"q1","c":2,"v":0.00051},{"s":"q1","c":3,"v":0.00035},{"s":"q1","c":4,"v":0.00028},{"s":"q1","c":5,"v":0.00008},{"s":"q1","c":6,"v":0.00078},{"s":"q1","c":7,"v":0.00058},{"s":"q1","c":8,"v":0.00019},
{"s":"q2","c":3,"v":0.00066},{"s":"q2","c":4,"v":0.00116},{"s":"q2","c":5,"v":0.00137},{"s":"q2","c":6,"v":0.00075},{"s":"q2","c":7,"v":0.0004},{"s":"q2","c":8,"v":0.00027},
{"s":"q3","c":5,"v":0.00019},{"s":"q3","c":6,"v":0.00088},{"s":"q3","c":7,"v":0.00135},{"s":"q3","c":8,"v":0.00085},
{"s":"q4","c":6,"v":0.00093},{"s":"q4","c":7,"v":0.00116},
{"s":"q5","c":4,"v":0.0004},{"s":"q5","c":5,"v":0.00038},{"s":"q5","c":6,"v":0.000145},
{"s":"q6","c":4,"v":0.000133},{"s":"q6","c":5,"v":0.00051},{"s":"q6","c":6,"v":0.00053},{"s":"q6","c":7,"v":0.00038},{"s":"q6","c":8,"v":0.00048},{"s":"q6","c":9,"v":0.00035},
{"s":"q7","c":5,"v":0.000176},{"s":"q7","c":6,"v":0.0005},{"s":"q7","c":7,"v":0.00072},{"s":"q7","c":8,"v":0.00011},
{"s":"q8","c":8,"v":0.00035},{"s":"q8","c":9,"v":0.0007},{"s":"q8","c":10,"v":0.00096},{"s":"q8","c":11,"v":0.001},{"s":"q8","c":12,"v":0.00105},{"s":"q8","c":13,"v":0.00058},{"s":"q8","c":14,"v":0.00045},{"s":"q8","c":15,"v":0.000027},
{"s":"q9","c":10,"v":0.000118},{"s":"q9","c":11,"v":0.00033},{"s":"q9","c":12,"v":0.00078},{"s":"q9","c":13,"v":0.00058},{"s":"q9","c":14,"v":0.00034},
{"s":"q10","c":11,"v":0.00023},{"s":"q10","c":12,"v":0.00075},{"s":"q10","c":13,"v":0.0007},{"s":"q10","c":14,"v":0.00021},
{"s":"q11","c":11,"v":0.00075},{"s":"q11","c":12,"v":0.00058},
{"s":"q12","c":12,"v":0.00024},{"s":"q12","c":13,"v":0.00055}
]
},
"concat":[
{"width":1151,"height":9,"view":{"fill":"white","stroke":null},"data":{"values":[{}]},"mark":{"type":"rule","opacity":0},"encoding":{}},
{"hconcat":[
{"width":14,"height":2,"view":{"fill":null,"stroke":null},"data":{"values":[{}]},"mark":{"type":"rule","opacity":0},"encoding":{}},
{"width":520,"height":358,
 "layer":[
  {"data":{"name":"A"},"mark":{"type":"line","strokeWidth":1.2},
   "encoding":{
    "x":{"field":"c","type":"quantitative","scale":{"domain":[0.5,40.5],"nice":false,"zero":false},
         "axis":{"values":[1,2,3,4,5,6,7,8,9,10,11,12,13,14,15,16,17,18,19,20,21,22,23,24,25,26,27,28,29,30,31,32,33,34,35,36,37,38,39,40],"tickCount":100,"format":"d","title":"Cycle Number","titleX":237,"labelFontSize":10.5,"labelPadding":8,"titleFontSize":10.5,"titlePadding":27}},
    "y":{"field":"v","type":"quantitative","scale":{"type":"log","domain":[1e-6,10],"nice":false},
         "axis":{"values":[1e-6,1e-5,1e-4,1e-3,1e-2,1e-1,1,10],"tickCount":100,"title":null,"labelExpr":"'1.0e' + (datum.value < 0.5 ? '-' : '+') + '00' + format(abs(log(datum.value) / LN10), '.0f')","labelFontSize":10.5,"labelPadding":6}},
    "color":{"field":"s","type":"nominal","legend":null,"scale":{
      "domain":["a1r","a1o","a2p","a2b","a2c","a3t","a3m","a3o","a4r","a4p","a4l","a4g","a5b","a5t","a6r","a6g","n1","n2","n3","n4","n5","n6","n7","n8","n9","n10","n11","n12","n13"],
      "range":["#E03028","#D08A38","#A040E0","#3F62E6","#30A8D8","#30C8A0","#E04090","#E0A050","#F03030","#F4A0A8","#A8ACF2","#98E498","#4868D8","#2E9AA8","#E83838","#48D848","#A8B838","#50E050","#3898D8","#A048E0","#E04898","#F03030","#F03030","#A8ACF2","#5070E0","#30B8A0","#30B8A0","#A8E8A8","#D89838"]}}}},
  {"data":{"values":[{}]},"mark":{"type":"rect","color":"white","clip":false},
   "encoding":{"x":{"datum":0.5,"type":"quantitative"},"x2":{"datum":9.4},
               "y":{"datum":0.6,"type":"quantitative"},"y2":{"datum":10}}},
  {"data":{"values":[{}]},"mark":{"type":"rect","color":"white","clip":false},
   "encoding":{"x":{"datum":5.7,"type":"quantitative"},"x2":{"datum":30.7},
               "y":{"datum":7,"type":"quantitative"},"y2":{"datum":25.8}}},
  {"data":{"values":[{}]},"mark":{"type":"rule","color":"#2E962E","strokeWidth":3.5},
   "encoding":{"y":{"datum":0.31,"type":"quantitative"}}},
  {"data":{"values":[{}]},"mark":{"type":"text","font":"Liberation Sans, Arial, sans-serif","fontSize":18,"color":"#111111","clip":false},
   "encoding":{"x":{"datum":17.6,"type":"quantitative"},"y":{"datum":16.4,"type":"quantitative"},
               "text":{"value":"Curvas de amplificación de PCR-TR"}}},
  {"data":{"values":[{}]},"mark":{"type":"text","font":"Liberation Sans, Arial, sans-serif","fontSize":18,"fontStyle":"italic","color":"#111111","clip":false},
   "encoding":{"x":{"datum":5.15,"type":"quantitative"},"y":{"datum":4.6,"type":"quantitative"},
               "text":{"value":"Sii.-25124"}}},
  {"data":{"values":[{}]},"mark":{"type":"text","font":"Liberation Sans, Arial, sans-serif","fontSize":17,"fontWeight":"bold","color":"#C00000","clip":false},
   "encoding":{"x":{"datum":5.4,"type":"quantitative"},"y":{"datum":1.5,"type":"quantitative"},
               "text":{"value":"A"}}}
 ]},
{"width":515,"height":365,
 "layer":[
  {"data":{"name":"B"},"mark":{"type":"line","strokeWidth":1.2,"clip":true},
   "encoding":{
    "x":{"field":"c","type":"quantitative","scale":{"domain":[0.6,39.8],"nice":false,"zero":false},
         "axis":{"values":[1,2,3,4,5,6,7,8,9,10,11,12,13,14,15,16,17,18,19,20,21,22,23,24,25,26,27,28,29,30,31,32,33,34,35,36,37,38,39],"tickCount":100,"format":"d","title":"Cycle Number","titleX":250,"labelFontSize":8,"labelPadding":10,"titleFontSize":8,"titlePadding":27}},
    "y":{"field":"v","type":"quantitative","scale":{"type":"log","domain":[1e-5,10],"nice":false},
         "axis":{"values":[1e-5,1e-4,1e-3,1e-2,1e-1,1,10],"tickCount":100,"title":"Delta Rn","titleFontSize":9,"titlePadding":6,"labelExpr":"'1.0e' + (datum.value < 0.5 ? '-' : '+') + '00' + format(abs(log(datum.value) / LN10), '.0f')","labelFontSize":7.5,"labelPadding":4}},
    "color":{"field":"s","type":"nominal","legend":null,"scale":{
      "domain":["b1b","b1r","b1p","b2u","b2n","b2d","b2k","b3r","b3g","b4s","b4p","b5t","b5p","b5n","b5b","m1","m2","m3","m4","m5","m6","m7","m8","m9","m10","m11","m12"],
      "range":["#4A4AC0","#D05858","#8A5AA8","#30307A","#B07070","#383838","#101010","#E07070","#66CC66","#5A6AA8","#7A6A9A","#4E8C8C","#7A5A90","#7A6A48","#7088C0","#303080","#904858","#3E7E3E","#6666C8","#D04848","#C08888","#78C878","#58A858","#707038","#703470","#307A7A","#D09898"]}}}},
  {"data":{"values":[{}]},"mark":{"type":"rect","color":"white","clip":false},
   "encoding":{"x":{"datum":0.6,"type":"quantitative"},"x2":{"datum":10.7},
               "y":{"datum":1.25,"type":"quantitative"},"y2":{"datum":10}}},
  {"data":{"values":[{}]},"mark":{"type":"rect","color":"white","clip":false},
   "encoding":{"x":{"datum":4.7,"type":"quantitative"},"x2":{"datum":29.6},
               "y":{"datum":6.9,"type":"quantitative"},"y2":{"datum":23.9}}},
  {"data":{"values":[{}]},"mark":{"type":"rule","color":"#2E962E","strokeWidth":3.5},
   "encoding":{"y":{"datum":0.22,"type":"quantitative"}}},
  {"data":{"values":[{}]},"mark":{"type":"text","font":"Liberation Sans, Arial, sans-serif","fontSize":18,"color":"#111111","clip":false},
   "encoding":{"x":{"datum":17.3,"type":"quantitative"},"y":{"datum":13.5,"type":"quantitative"},
               "text":{"value":"Curvas de amplificación de PCR-TR"}}},
  {"data":{"values":[{}]},"mark":{"type":"text","font":"Liberation Sans, Arial, sans-serif","fontSize":17,"fontStyle":"italic","color":"#111111","clip":false},
   "encoding":{"x":{"datum":6.4,"type":"quantitative"},"y":{"datum":4.55,"type":"quantitative"},
               "text":{"value":"Lb plantarum A6"}}},
  {"data":{"values":[{}]},"mark":{"type":"text","font":"Liberation Sans, Arial, sans-serif","fontSize":17,"fontWeight":"bold","color":"#C00000","clip":false},
   "encoding":{"x":{"datum":9.0,"type":"quantitative"},"y":{"datum":2.2,"type":"quantitative"},
               "text":{"value":"B"}}}
 ]}
],"spacing":0,"resolve":{"scale":{"color":"independent"}}},
{"hconcat":[
{"width":325,"height":418,"view":{"fill":"white","stroke":null},"data":{"values":[{}]},
 "mark":{"type":"rect","color":"white","clip":false},
 "encoding":{"x":{"datum":0,"type":"quantitative","scale":{"domain":[0,1],"nice":false},"axis":null},"x2":{"datum":1},
             "y":{"datum":0,"type":"quantitative","scale":{"domain":[0,1],"nice":false},"axis":null},"y2":{"datum":1.046}}},
{"width":525,"height":358,
 "layer":[
  {"data":{"name":"C"},"mark":{"type":"line","strokeWidth":1.2},
   "encoding":{
    "x":{"field":"c","type":"quantitative","scale":{"domain":[0.4,40.4],"nice":false,"zero":false},
         "axis":{"values":[1,2,3,4,5,6,7,8,9,10,11,12,13,14,15,16,17,18,19,20,21,22,23,24,25,26,27,28,29,30,31,32,33,34,35,36,37,38,39,40],"tickCount":100,"format":"d","title":"Cycle Number","titleX":240,"labelFontSize":10.5,"labelPadding":10,"titleFontSize":10.5,"titlePadding":26}},
    "y":{"field":"v","type":"quantitative","scale":{"type":"log","domain":[1e-5,10],"nice":false},
         "axis":{"values":[1e-5,1e-4,1e-3,1e-2,1e-1,1,10],"tickCount":100,"title":"Delta Rn","titleFontSize":10,"titlePadding":6,"labelExpr":"'1.0e' + (datum.value < 0.5 ? '-' : '+') + '00' + format(abs(log(datum.value) / LN10), '.0f')","labelFontSize":10.5,"labelPadding":5}},
    "color":{"field":"s","type":"nominal","legend":null,"scale":{
      "domain":["c1p","c1k","c1g","c2m","c2p","c2t","c3y","c3g","c3b","c3p","c4o","c4p","c4g","c4r","c5b","c5l","c5k","q1","q2","q3","q4","q5","q6","q7","q8","q9","q10","q11","q12"],
      "range":["#8040B0","#B0A070","#908070","#8A3A3A","#8040C0","#40A0A0","#B8E040","#50E050","#3060F0","#A040E0","#F0A040","#F05090","#40D880","#E83030","#A8D4E8","#D0A0D8","#D8CCA0","#9040E0","#3090F0","#F04080","#F0A040","#40E0A0","#D0C4A4","#C8A8E8","#A8D8E0","#40E0A0","#F09030","#D8A8E8","#D0C4A4"]}}}},
  {"data":{"values":[{}]},"mark":{"type":"rect","color":"white","clip":false},
   "encoding":{"x":{"datum":0.4,"type":"quantitative"},"x2":{"datum":13.5},
               "y":{"datum":1.05,"type":"quantitative"},"y2":{"datum":10}}},
  {"data":{"values":[{}]},"mark":{"type":"rect","color":"white","clip":false},
   "encoding":{"x":{"datum":5.8,"type":"quantitative"},"x2":{"datum":30.4},
               "y":{"datum":7.9,"type":"quantitative"},"y2":{"datum":20.8}}},
  {"data":{"values":[{}]},"mark":{"type":"rule","color":"#2E962E","strokeWidth":3.5},
   "encoding":{"y":{"datum":0.35,"type":"quantitative"}}},
  {"data":{"values":[{}]},"mark":{"type":"text","font":"Liberation Sans, Arial, sans-serif","fontSize":18,"color":"#111111","clip":false},
   "encoding":{"x":{"datum":17.3,"type":"quantitative"},"y":{"datum":12.6,"type":"quantitative"},
               "text":{"value":"Curvas de amplificación de PCR-TR"}}},
  {"data":{"values":[{}]},"mark":{"type":"text","font":"Liberation Sans, Arial, sans-serif","fontSize":17,"fontStyle":"italic","color":"#111111","clip":false},
   "encoding":{"x":{"datum":7.3,"type":"quantitative"},"y":{"datum":3.8,"type":"quantitative"},
               "text":{"value":"W. Confusa L17"}}},
  {"data":{"values":[{}]},"mark":{"type":"text","font":"Liberation Sans, Arial, sans-serif","fontSize":17,"fontWeight":"bold","color":"#C00000","clip":false},
   "encoding":{"x":{"datum":7.4,"type":"quantitative"},"y":{"datum":1.63,"type":"quantitative"},
               "text":{"value":"C"}}}
 ]},
{"width":226,"height":418,"view":{"fill":"white","stroke":null},"data":{"values":[{}]},
 "mark":{"type":"rect","color":"white","clip":false},
 "encoding":{"x":{"datum":0,"type":"quantitative","scale":{"domain":[0,1],"nice":false},"axis":null},"x2":{"datum":1},
             "y":{"datum":0,"type":"quantitative","scale":{"domain":[0,1],"nice":false},"axis":null},"y2":{"datum":1.046}}}
],"spacing":0,"resolve":{"scale":{"color":"independent"}}}
]
}
